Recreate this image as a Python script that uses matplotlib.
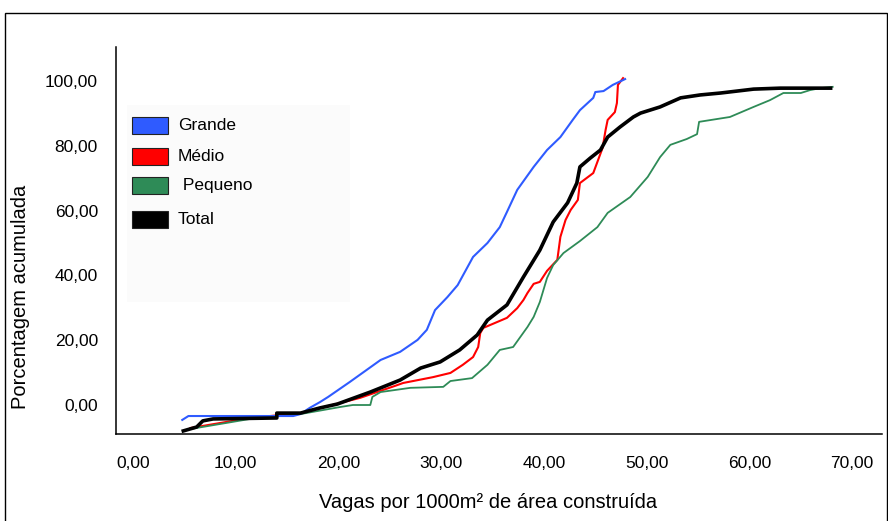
import matplotlib
matplotlib.use('Agg')
import matplotlib.pyplot as plt
from matplotlib.patches import Rectangle

plt.rcParams['font.family'] = ['Liberation Sans', 'DejaVu Sans']

# ─── Cumulative curves (vagas per 1000 m², cumulative %) ─────────────
grande_x = [4.8, 5.4, 15.6, 16.3, 17.2, 18.2, 19.0, 21.1, 24.1, 26.0, 27.7, 28.6, 29.4, 30.6,
            31.6, 33.1, 34.5, 35.7, 36.4, 37.4, 39.0, 40.3, 41.6, 42.8, 43.5, 44.8, 45.0,
            45.8, 46.7, 47.9]
grande_y = [-4.6, -3.4, -3.4, -2.8, -0.9, 0.9, 2.5, 7.1, 13.9, 16.4, 20.1, 23.2, 29.3, 33.3,
            37.0, 45.7, 50.0, 54.9, 59.6, 66.4, 73.5, 78.7, 82.7, 88.0, 91.0, 94.8, 96.6,
            96.9, 98.8, 100.6]

medio_x = [5.6, 11.4, 16.3, 22.1, 25.5, 26.3, 29.2, 30.9, 32.1, 33.1, 33.6, 33.8, 34.1, 36.4,
           37.4, 38.0, 38.4, 39.0, 39.6, 40.3, 41.3, 41.6, 42.1, 42.6, 43.3, 43.5, 44.8,
           45.7, 46.0, 46.2, 46.9, 47.1, 47.2, 47.7]
medio_y = [-7.1, -4.0, -2.5, 2.2, 5.9, 6.8, 8.6, 9.9, 12.4, 14.8, 17.9, 22.2, 23.8, 26.9,
           29.9, 32.4, 34.6, 37.4, 38.0, 41.4, 44.8, 51.9, 57.1, 60.2, 63.3, 68.5, 71.6,
           79.3, 84.9, 88.0, 90.4, 93.2, 98.8, 100.9]

pequeno_x = [5.6, 11.4, 16.3, 20.2, 21.4, 23.1, 23.3, 24.1, 27.0, 30.2, 30.9, 33.0, 34.5,
             35.7, 37.0, 38.4, 39.0, 39.6, 40.3, 40.9, 41.9, 43.5, 45.2, 46.2, 48.4, 50.1,
             51.3, 52.3, 53.9, 54.9, 55.1, 58.1, 60.4, 62.0, 63.3, 65.0, 65.9, 66.9, 68.1]
pequeno_y = [-7.4, -4.3, -2.8, -0.6, 0.0, 0.0, 2.5, 4.0, 5.3, 5.6, 7.4, 8.3, 12.4, 17.0,
             17.9, 24.1, 27.2, 31.8, 39.2, 43.2, 46.9, 50.6, 54.9, 59.3, 64.2, 70.4, 76.5,
             80.3, 82.1, 83.6, 87.4, 88.9, 92.0, 94.1, 96.3, 96.3, 97.2, 97.8, 98.2]

total_x = [4.9, 6.2, 6.8, 7.8, 14.0, 14.0, 16.3, 18.2, 19.9, 21.8, 23.1, 26.0, 28.0, 29.9,
           31.8, 33.5, 34.5, 36.4, 38.0, 39.6, 40.9, 42.3, 43.2, 43.5, 44.5, 45.5, 46.2,
           47.4, 48.7, 49.4, 51.3, 53.3, 55.2, 57.2, 60.4, 63.0, 67.9]
total_y = [-8.0, -6.8, -4.9, -4.3, -4.0, -2.5, -2.5, -0.9, 0.3, 2.5, 4.0, 7.7, 11.4, 13.3,
           17.0, 21.6, 26.2, 30.9, 39.5, 47.8, 56.5, 62.4, 68.5, 73.5, 76.2, 78.7, 82.7,
           85.8, 88.9, 90.1, 92.0, 94.8, 95.7, 96.3, 97.5, 97.8, 97.8]

series_names = ['Grande', 'Médio', ' Pequeno', 'Total']
series_colors = ['#2f5bff', '#ff0000', '#2e8b57', '#000000']

xticks = [0, 10, 20, 30, 40, 50, 60, 70]
yticks = [0, 20, 40, 60, 80, 100]

W, H = 888, 521
fig = plt.figure(figsize=(W / 100, H / 100), dpi=100)
fig.patch.set_facecolor('white')

# outer frame
fig.add_artist(Rectangle((5 / W, -0.05), 882 / W, 1.05 - 13 / H, transform=fig.transFigure,
                         fill=False, edgecolor='black', linewidth=1.0))

ax = fig.add_axes([116 / W, 1 - 434 / H, (882 - 116) / W, (434 - 47) / H])
ax.set_facecolor('white')

# faint panel behind the legend
fig.add_artist(Rectangle((127 / W, 1 - 302 / H), 223 / W, 197 / H, transform=fig.transFigure,
                         facecolor='#fbfbfb', edgecolor='none', zorder=0.5))

ax.plot(grande_x, grande_y, color=series_colors[0], lw=1.5, zorder=3)
ax.plot(medio_x, medio_y, color=series_colors[1], lw=1.5, zorder=2)
ax.plot(pequeno_x, pequeno_y, color=series_colors[2], lw=1.3, zorder=2)
ax.plot(total_x, total_y, color=series_colors[3], lw=2.6, zorder=4)

ax.set_xlim(-1.65, 72.9)
ax.set_ylim(-8.95, 110.5)
ax.set_xticks(xticks)
ax.set_yticks(yticks)
ax.set_xticklabels([f'{v:.2f}'.replace('.', ',') for v in xticks], fontsize=12.5)
ax.set_yticklabels([f'{v:.2f}'.replace('.', ',') for v in yticks], fontsize=12.5)
ax.tick_params(axis='x', length=0, pad=16)
ax.tick_params(axis='y', length=0, pad=13)
for side in ['top', 'right']:
    ax.spines[side].set_visible(False)
for side in ['left', 'bottom']:
    ax.spines[side].set_linewidth(1.1)

fig.text(488 / W, 1 - 503 / H, 'Vagas por 1000m² de área construída', fontsize=14.5,
         ha='center', va='center')
fig.text(21 / W, 1 - 297 / H, 'Porcentagem acumulada', fontsize=14.5, rotation=90,
         ha='center', va='center')

# legend swatches
legend_tops = [117, 148, 177, 211]
for name, color, top in zip(series_names, series_colors, legend_tops):
    fig.add_artist(Rectangle((132 / W, 1 - (top + 17) / H), 36 / W, 17 / H,
                             transform=fig.transFigure, facecolor=color,
                             edgecolor='#222222', linewidth=0.8, zorder=5))
    fig.text(178 / W, 1 - (top + 9) / H, name, fontsize=12.5, ha='left', va='center')

fig.savefig('out.png', dpi=100)
